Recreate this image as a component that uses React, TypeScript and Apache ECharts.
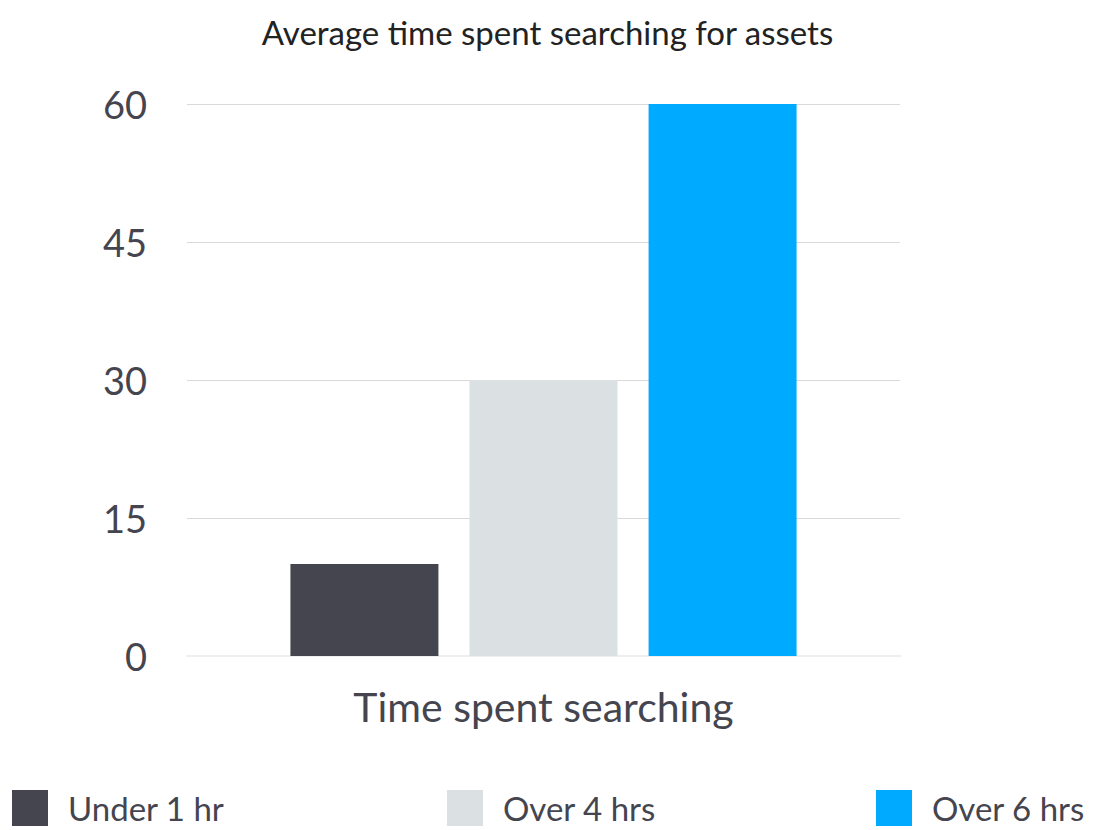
import React, { useEffect, useRef } from "react";
import * as echarts from "echarts";

const title = "Average time spent searching for assets";
const categories = ["Time spent searching"];
const seriesNames = ["Under 1 hr", "Over 4 hrs", "Over 6 hrs"];
const seriesValues = [[10], [30], [60]];
const colors = ["#45454f", "#dbe0e3", "#00aaff"];
const legendLefts = [12, 447, 876];

const FONT = "Lato, 'Noto Sans', sans-serif";
const TEXT = "#45454f";

export default function App() {
  const ref = useRef<HTMLDivElement>(null);
  useEffect(() => {
    const chart = echarts.init(ref.current!, null, { renderer: "svg" });
    chart.setOption({
      animation: false,
      textStyle: { fontFamily: FONT },
      title: {
        text: title,
        left: "center",
        top: 10,
        textStyle: { fontSize: 33, fontWeight: "normal", color: "#222", fontFamily: FONT },
      },
      legend: seriesNames.map((n, i) => ({
        data: [n],
        left: legendLefts[i],
        top: 790,
        padding: 0,
        itemWidth: 36,
        itemHeight: 36,
        itemGap: 20,
        icon: "rect",
        textStyle: { fontSize: 33, color: TEXT, fontFamily: FONT, padding: [0, 0, 0, 15] },
      })),
      grid: { left: 187, right: 195, top: 104, bottom: 174 },
      xAxis: {
        type: "category",
        data: categories,
        axisTick: { show: false },
        axisLine: { show: true, lineStyle: { color: "#eeeeee", width: 2 } },
        axisLabel: { fontSize: 41, color: TEXT, margin: 30, fontFamily: FONT },
      },
      yAxis: {
        type: "value",
        min: 0,
        max: 60,
        interval: 15,
        axisLine: { show: false },
        axisTick: { show: false },
        splitLine: { lineStyle: { color: "#d9d9d9", width: 1 } },
        axisLabel: { fontSize: 38, color: TEXT, margin: 40, fontFamily: FONT },
      },
      series: seriesNames.map((n, i) => ({
        name: n,
        type: "bar",
        data: seriesValues[i],
        barWidth: 148,
        barGap: "21%",
        itemStyle: { color: colors[i] },
      })),
    });
    return () => chart.dispose();
  }, []);
  return <div ref={ref} style={{ width: 1095, height: 830, position: "absolute", left: 0, top: 0 }} />;
}
